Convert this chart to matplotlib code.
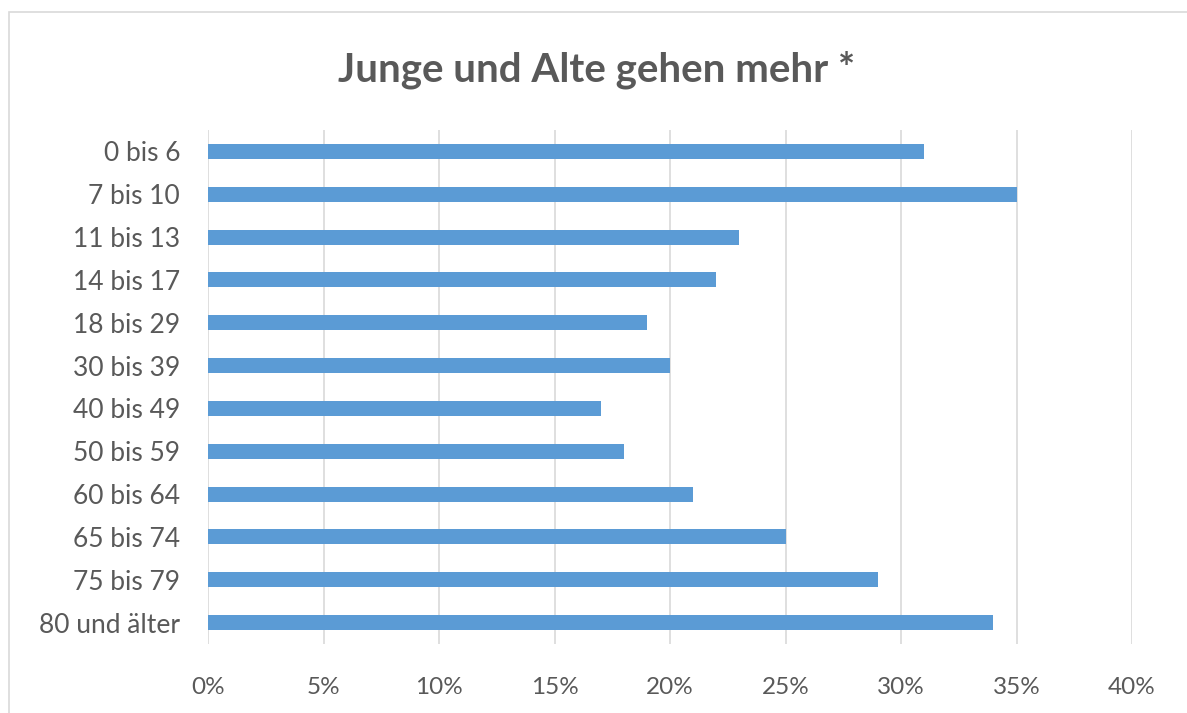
import matplotlib.pyplot as plt
from matplotlib.patches import Rectangle
from matplotlib.ticker import FuncFormatter

# Altersgruppen und Anteile (in %)
groups = ["0 bis 6", "7 bis 10", "11 bis 13", "14 bis 17", "18 bis 29", "30 bis 39",
          "40 bis 49", "50 bis 59", "60 bis 64", "65 bis 74", "75 bis 79", "80 und älter"]
values = [31, 35, 23, 22, 19, 20, 17, 18, 21, 25, 29, 34]
xticks = [0, 5, 10, 15, 20, 25, 30, 35, 40]
title = "Junge und Alte gehen mehr *"

plt.rcParams['font.family'] = ['Lato', 'DejaVu Sans']

fig = plt.figure(figsize=(11.87, 7.13), dpi=100)
ax = fig.add_axes([208/1187, 1-644/713, 924/1187, 514/713])

ypos = list(range(len(groups)))
ax.barh(ypos, values, height=0.35, color="#5B9BD5", zorder=2)
ax.set_ylim(len(groups)-0.5, -0.5)
ax.set_xlim(0, 40)
ax.set_yticks(ypos)
ax.set_yticklabels(groups)
ax.set_xticks(xticks)
ax.xaxis.set_major_formatter(FuncFormatter(lambda v, p: "%d%%" % v))
ax.grid(axis="x", color="#D9D9D9", linewidth=1.2, zorder=0)
for s in ax.spines.values():
    s.set_visible(False)
ax.tick_params(axis="both", length=0, labelcolor="#595959")
ax.tick_params(axis="x", pad=24, labelsize=17.5)
ax.tick_params(axis="y", pad=20, labelsize=19)

fig.text(597/1187, 1-70/713, title, ha="center", va="center", fontsize=29,
         fontweight="bold", color="#595959")

# Rahmen um das Diagramm
fig.patches.append(Rectangle((9/1187, -0.1), 1.2, 1.1-12/713, transform=fig.transFigure,
                             fill=False, edgecolor="#D9D9D9", linewidth=1.2))

fig.savefig("out.png", dpi=100)
